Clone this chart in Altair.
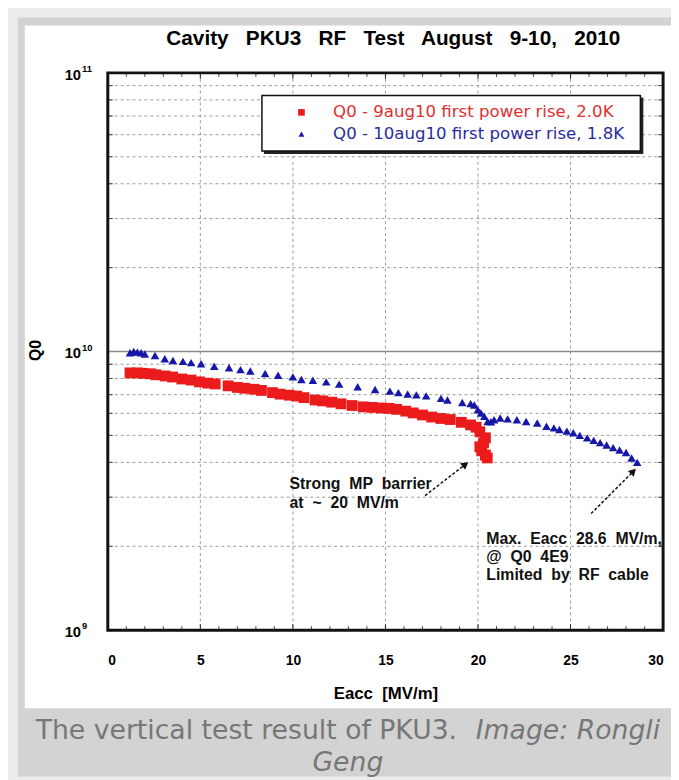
import altair as alt
import pandas as pd

# ---------------- data ----------------
red_e = [1.2, 1.6, 1.9, 2.3, 2.6, 3.1, 3.5, 4.0, 4.5, 4.95, 5.4, 5.8, 6.5, 7.0, 7.4, 7.9, 8.3,
         8.9, 9.3, 9.8, 10.2, 10.6, 11.2, 11.6, 12.1, 12.6, 13.2, 13.8, 14.3, 14.8, 15.2, 15.6,
         16.1, 16.5, 17.0, 17.5, 18.0, 18.5, 19.1, 19.6, 19.9, 20.1, 20.4, 20.3, 20.1, 20.2,
         20.4, 20.5]
red_q = [8.38e9, 8.38e9, 8.35e9, 8.32e9, 8.25e9, 8.17e9, 8.1e9, 7.97e9, 7.9e9, 7.78e9, 7.7e9,
         7.65e9, 7.53e9, 7.43e9, 7.38e9, 7.32e9, 7.25e9, 7.12e9, 7.03e9, 6.97e9, 6.92e9,
         6.83e9, 6.7e9, 6.65e9, 6.58e9, 6.49e9, 6.4e9, 6.33e9, 6.3e9, 6.27e9, 6.25e9, 6.2e9,
         6.11e9, 6.02e9, 5.92e9, 5.82e9, 5.75e9, 5.7e9, 5.57e9, 5.45e9, 5.35e9, 5.15e9, 4.9e9,
         4.7e9, 4.55e9, 4.4e9, 4.25e9, 4.15e9]

blue_e = [1.2, 1.4, 1.6, 1.8, 2.0, 2.55, 3.08, 3.52, 4.06, 4.5, 5.04, 5.75, 6.55, 7.17, 7.7,
          8.5, 9.2, 10.0, 10.46, 11.08, 11.8, 12.5, 13.5, 14.44, 15.24, 15.7, 16.2, 16.67,
          17.2, 18.0, 18.35, 19.15, 19.6, 19.8, 19.99, 20.16, 20.34, 20.52, 20.7, 20.87, 21.2,
          21.6, 22.1, 22.6, 23.2, 23.7, 24.1, 24.4, 24.8, 25.15, 25.5, 25.9, 26.25, 26.6,
          26.95, 27.3, 27.65, 28.0, 28.3, 28.6]
blue_q = [9.9e9, 1.0e10, 9.95e9, 9.9e9, 9.8e9, 9.68e9, 9.42e9, 9.29e9, 9.22e9, 9.12e9,
          9.04e9, 8.85e9, 8.75e9, 8.61e9, 8.51e9, 8.34e9, 8.22e9, 8.11e9, 7.94e9, 7.89e9,
          7.78e9, 7.64e9, 7.47e9, 7.31e9, 7.21e9, 7.12e9, 7.04e9, 6.99e9, 6.93e9, 6.79e9,
          6.7e9, 6.56e9, 6.5e9, 6.43e9, 6.18e9, 6.02e9, 5.85e9, 5.61e9, 5.6e9, 5.69e9,
          5.77e9, 5.73e9, 5.69e9, 5.61e9, 5.54e9, 5.39e9, 5.32e9, 5.25e9, 5.18e9, 5.11e9,
          5.0e9, 4.9e9, 4.8e9, 4.71e9, 4.62e9, 4.52e9, 4.43e9, 4.34e9, 4.15e9, 4.0e9]

series_names = ["Q0 - 9aug10 first power rise, 2.0K", "Q0 - 10aug10 first power rise, 1.8K"]

x_label_values = [0, 5, 10, 15, 20, 25, 30]
x_grid_values = [5, 10, 15, 20, 25]
x_minor_ticks = [1, 2, 3, 4, 6, 7, 8, 9, 11, 12, 13, 14, 16, 17, 18, 19, 21, 22, 23, 24,
                 26, 27, 28, 29]
y_label_values = [1e9, 1e10, 1e11]
y_label_base = ["10", "10", "10"]
y_label_exp = ["9", "10", "11"]
y_minor_values = [2e9, 3e9, 4e9, 5e9, 6e9, 7e9, 8e9, 9e9,
                  2e10, 3e10, 4e10, 5e10, 6e10, 7e10, 8e10, 9e10]

S3 = "\u00a0\u00a0 "
title_text = S3.join(["Cavity", "PKU3", "RF", "Test", "August", "9-10,", "2010"])
x_title = "Eacc\u00a0 [MV/m]"
y_title = "Q0"

ann_text = ["Strong\u00a0 MP\u00a0 barrier", "at\u00a0 ~\u00a0 20\u00a0 MV/m",
            "Max.\u00a0 Eacc\u00a0 28.6\u00a0 MV/m,", "@\u00a0 Q0\u00a0 4E9",
            "Limited\u00a0 by\u00a0 RF\u00a0 cable"]
ann_e = [9.82, 9.82, 20.45, 20.45, 20.45]
ann_q = [3.35e9, 2.87e9, 2.12e9, 1.83e9, 1.58e9]

arrow_e0 = [17.14, 26.11]
arrow_q0 = [3.04e9, 2.62e9]
arrow_e1 = [19.27, 28.35]
arrow_q1 = [3.91e9, 3.69e9]
arrow_angle = [52, 45]

caption_1 = "The vertical test result of PKU3."
caption_2 = "Image: Rongli"
caption_3 = "Geng"

# ---------------- styling ----------------
W, H = 562, 564
RED = "#ec1b1b"
BLUE = "#1616a8"
FONT = "Liberation Sans"

xs = alt.Scale(domain=[0, 30], nice=False, zero=False)
ys = alt.Scale(type="log", domain=[1e9, 1e11], nice=False)

x_axis = alt.Axis(values=x_label_values, title=x_title, grid=False, ticks=False,
                  domain=False, labelFont=FONT, labelFontSize=14, labelFontWeight="bold",
                  labelColor="black", labelPadding=24, titleFont=FONT, titleFontSize=17,
                  titleFontWeight="bold", titleColor="black", titlePadding=18, zindex=1)
y_axis = None


def X(f):
    return alt.X(f, type="quantitative", scale=xs, axis=x_axis)


def Y(f):
    return alt.Y(f, type="quantitative", scale=ys, axis=y_axis)


one = pd.DataFrame({"a": [0]})

# page background pieces (relative to the plot origin)
grey_frame = alt.Chart(one).mark_rect(color="#d3d3d3").encode(
    x=alt.value(-91), x2=alt.value(575), y=alt.value(-56), y2=alt.value(712))
white_panel = alt.Chart(one).mark_rect(color="white").encode(
    x=alt.value(-84), x2=alt.value(575), y=alt.value(-48), y2=alt.value(643))

# grid
xgrid = alt.Chart(pd.DataFrame({"x": x_grid_values})).mark_rule(
    color="#9a9a9a", strokeDash=[3, 3], strokeWidth=1).encode(x=X("x"))
ygrid = alt.Chart(pd.DataFrame({"y": y_minor_values})).mark_rule(
    color="#9a9a9a", strokeDash=[3, 3], strokeWidth=1).encode(y=Y("y"))
ymajor = alt.Chart(pd.DataFrame({"y": [1e10]})).mark_rule(
    color="#8a8a8a", strokeWidth=1.3).encode(y=Y("y"))

# inward ticks
xt_df = pd.DataFrame({"x": x_minor_ticks})
xt_bot = alt.Chart(xt_df).mark_rule(color="#444", strokeWidth=1).encode(
    x=X("x"), y=alt.value(H), y2=alt.value(H - 4))
xt_top = alt.Chart(xt_df).mark_rule(color="#444", strokeWidth=1).encode(
    x=X("x"), y=alt.value(0), y2=alt.value(4))
xm_df = pd.DataFrame({"x": x_grid_values})
xm_bot = alt.Chart(xm_df).mark_rule(color="#222", strokeWidth=1).encode(
    x=X("x"), y=alt.value(H), y2=alt.value(H - 6))
xm_top = alt.Chart(xm_df).mark_rule(color="#222", strokeWidth=1).encode(
    x=X("x"), y=alt.value(0), y2=alt.value(6))
yt_df = pd.DataFrame({"y": y_minor_values})
yt_left = alt.Chart(yt_df).mark_rule(color="#444", strokeWidth=1).encode(
    y=Y("y"), x=alt.value(0), x2=alt.value(5))
yt_right = alt.Chart(yt_df).mark_rule(color="#444", strokeWidth=1).encode(
    y=Y("y"), x=alt.value(W), x2=alt.value(W - 5))

# y decade labels 10^n
ylab_df = pd.DataFrame({"y": y_label_values, "b": y_label_base, "e": y_label_exp})
ylab_base = alt.Chart(ylab_df).mark_text(align="right", baseline="middle", font=FONT,
                                         fontSize=15, fontWeight="bold", color="black",
                                         dy=2).encode(
    y=Y("y"), x=alt.value(-27), text="b:N")
ylab_exp = alt.Chart(ylab_df).mark_text(align="left", baseline="middle", font=FONT,
                                        fontSize=9.5, fontWeight="bold", color="black",
                                        dy=-4).encode(
    y=Y("y"), x=alt.value(-26), text="e:N")
ytitle = alt.Chart(one).mark_text(angle=270, align="center", baseline="middle", font=FONT,
                                  fontSize=16, fontWeight="bold", color="black").encode(
    x=alt.value(-73), y=alt.value(281), text=alt.value(y_title))
title = alt.Chart(one).mark_text(align="center", baseline="middle", font=FONT,
                                 fontSize=21, fontWeight="bold", color="black").encode(
    x=alt.value(W / 2 + 8), y=alt.value(-34), text=alt.value(title_text))

# data
red_df = pd.DataFrame({"E": red_e, "Q": red_q})
blue_df = pd.DataFrame({"E": blue_e, "Q": blue_q})
red_pts = alt.Chart(red_df).mark_point(shape="square", filled=True, size=120, color=RED,
                                       opacity=1).encode(x=X("E"), y=Y("Q"))
blue_pts = alt.Chart(blue_df).mark_point(shape="triangle-up", filled=True, size=75, color=BLUE,
                                         opacity=1).encode(x=X("E"), y=Y("Q"))

# annotations
ann_df = pd.DataFrame({"E": ann_e, "Q": ann_q, "t": ann_text})
ann = alt.Chart(ann_df).mark_text(align="left", baseline="middle", font=FONT, fontSize=16,
                                  fontWeight="bold", color="#111").encode(
    x=X("E"), y=Y("Q"), text="t:N")
arr_df = pd.DataFrame({"E0": arrow_e0, "Q0": arrow_q0, "E1": arrow_e1, "Q1": arrow_q1,
                       "ang": arrow_angle})
shafts = alt.Chart(arr_df).mark_rule(color="#111", strokeWidth=1.5, strokeDash=[3, 2]).encode(
    x=X("E0"), y=Y("Q0"), x2="E1", y2="Q1")
heads = alt.Chart(arr_df).mark_point(shape="triangle", filled=True, size=70, color="#111",
                                     opacity=1).encode(
    x=X("E1"), y=Y("Q1"), angle=alt.Angle("ang:Q", scale=None))

# legend box (drawn by hand to keep the coloured labels)
LX0, LX1, LY0, LY1 = 156, 539, 23, 79
leg_shadow = alt.Chart(one).mark_rect(color="#222").encode(
    x=alt.value(LX0 + 2), x2=alt.value(LX1 + 3), y=alt.value(LY0 + 2), y2=alt.value(LY1 + 3))
leg_box = alt.Chart(one).mark_rect(fill="white", stroke="#111", strokeWidth=1.5).encode(
    x=alt.value(LX0), x2=alt.value(LX1), y=alt.value(LY0), y2=alt.value(LY1))
leg_red_sym = alt.Chart(one).mark_point(shape="square", filled=True, size=45, color=RED,
                                        opacity=1).encode(x=alt.value(196), y=alt.value(40))
leg_blue_sym = alt.Chart(one).mark_point(shape="triangle-up", filled=True, size=35, color=BLUE,
                                         opacity=1).encode(x=alt.value(196), y=alt.value(62))
leg_red_txt = alt.Chart(one).mark_text(align="left", baseline="middle", font="DejaVu Sans",
                                       fontSize=16.8, color="#e03030").encode(
    x=alt.value(228), y=alt.value(40), text=alt.value(series_names[0]))
leg_blue_txt = alt.Chart(one).mark_text(align="left", baseline="middle", font="DejaVu Sans",
                                        fontSize=16.8, color="#2b2ba0").encode(
    x=alt.value(228), y=alt.value(62), text=alt.value(series_names[1]))

border = alt.Chart(one).mark_rect(fillOpacity=0, stroke="#111", strokeWidth=3).encode(
    x=alt.value(0), x2=alt.value(W), y=alt.value(0), y2=alt.value(H))

# caption
CAP = "#777777"
cap1 = alt.Chart(one).mark_text(align="left", baseline="middle", font="DejaVu Sans",
                                fontSize=27, color=CAP).encode(
    x=alt.value(-73), y=alt.value(666), text=alt.value(caption_1))
cap2 = alt.Chart(one).mark_text(align="right", baseline="middle", font="DejaVu Sans",
                                fontSize=27, fontStyle="italic", color=CAP).encode(
    x=alt.value(559), y=alt.value(666), text=alt.value(caption_2))
cap3 = alt.Chart(one).mark_text(align="center", baseline="middle", font="DejaVu Sans",
                                fontSize=27, fontStyle="italic", color=CAP).encode(
    x=alt.value(243), y=alt.value(699), text=alt.value(caption_3))

chart = alt.layer(
    grey_frame, white_panel, xgrid, ygrid, ymajor, xt_bot, xt_top, xm_bot, xm_top,
    yt_left, yt_right, red_pts, blue_pts, shafts, heads, ann,
    leg_shadow, leg_box, leg_red_sym, leg_blue_sym, leg_red_txt, leg_blue_txt,
    border, ylab_base, ylab_exp, ytitle, title, cap1, cap2, cap3
).properties(
    width=W, height=H,
    padding={"left": 101, "top": 61, "right": 8, "bottom": 147},
    autosize=alt.AutoSizeParams(type="none"),
    background="#ececec",
).configure_view(stroke=None)

chart.save("out.html", embed_options={"renderer": "svg", "actions": False})
